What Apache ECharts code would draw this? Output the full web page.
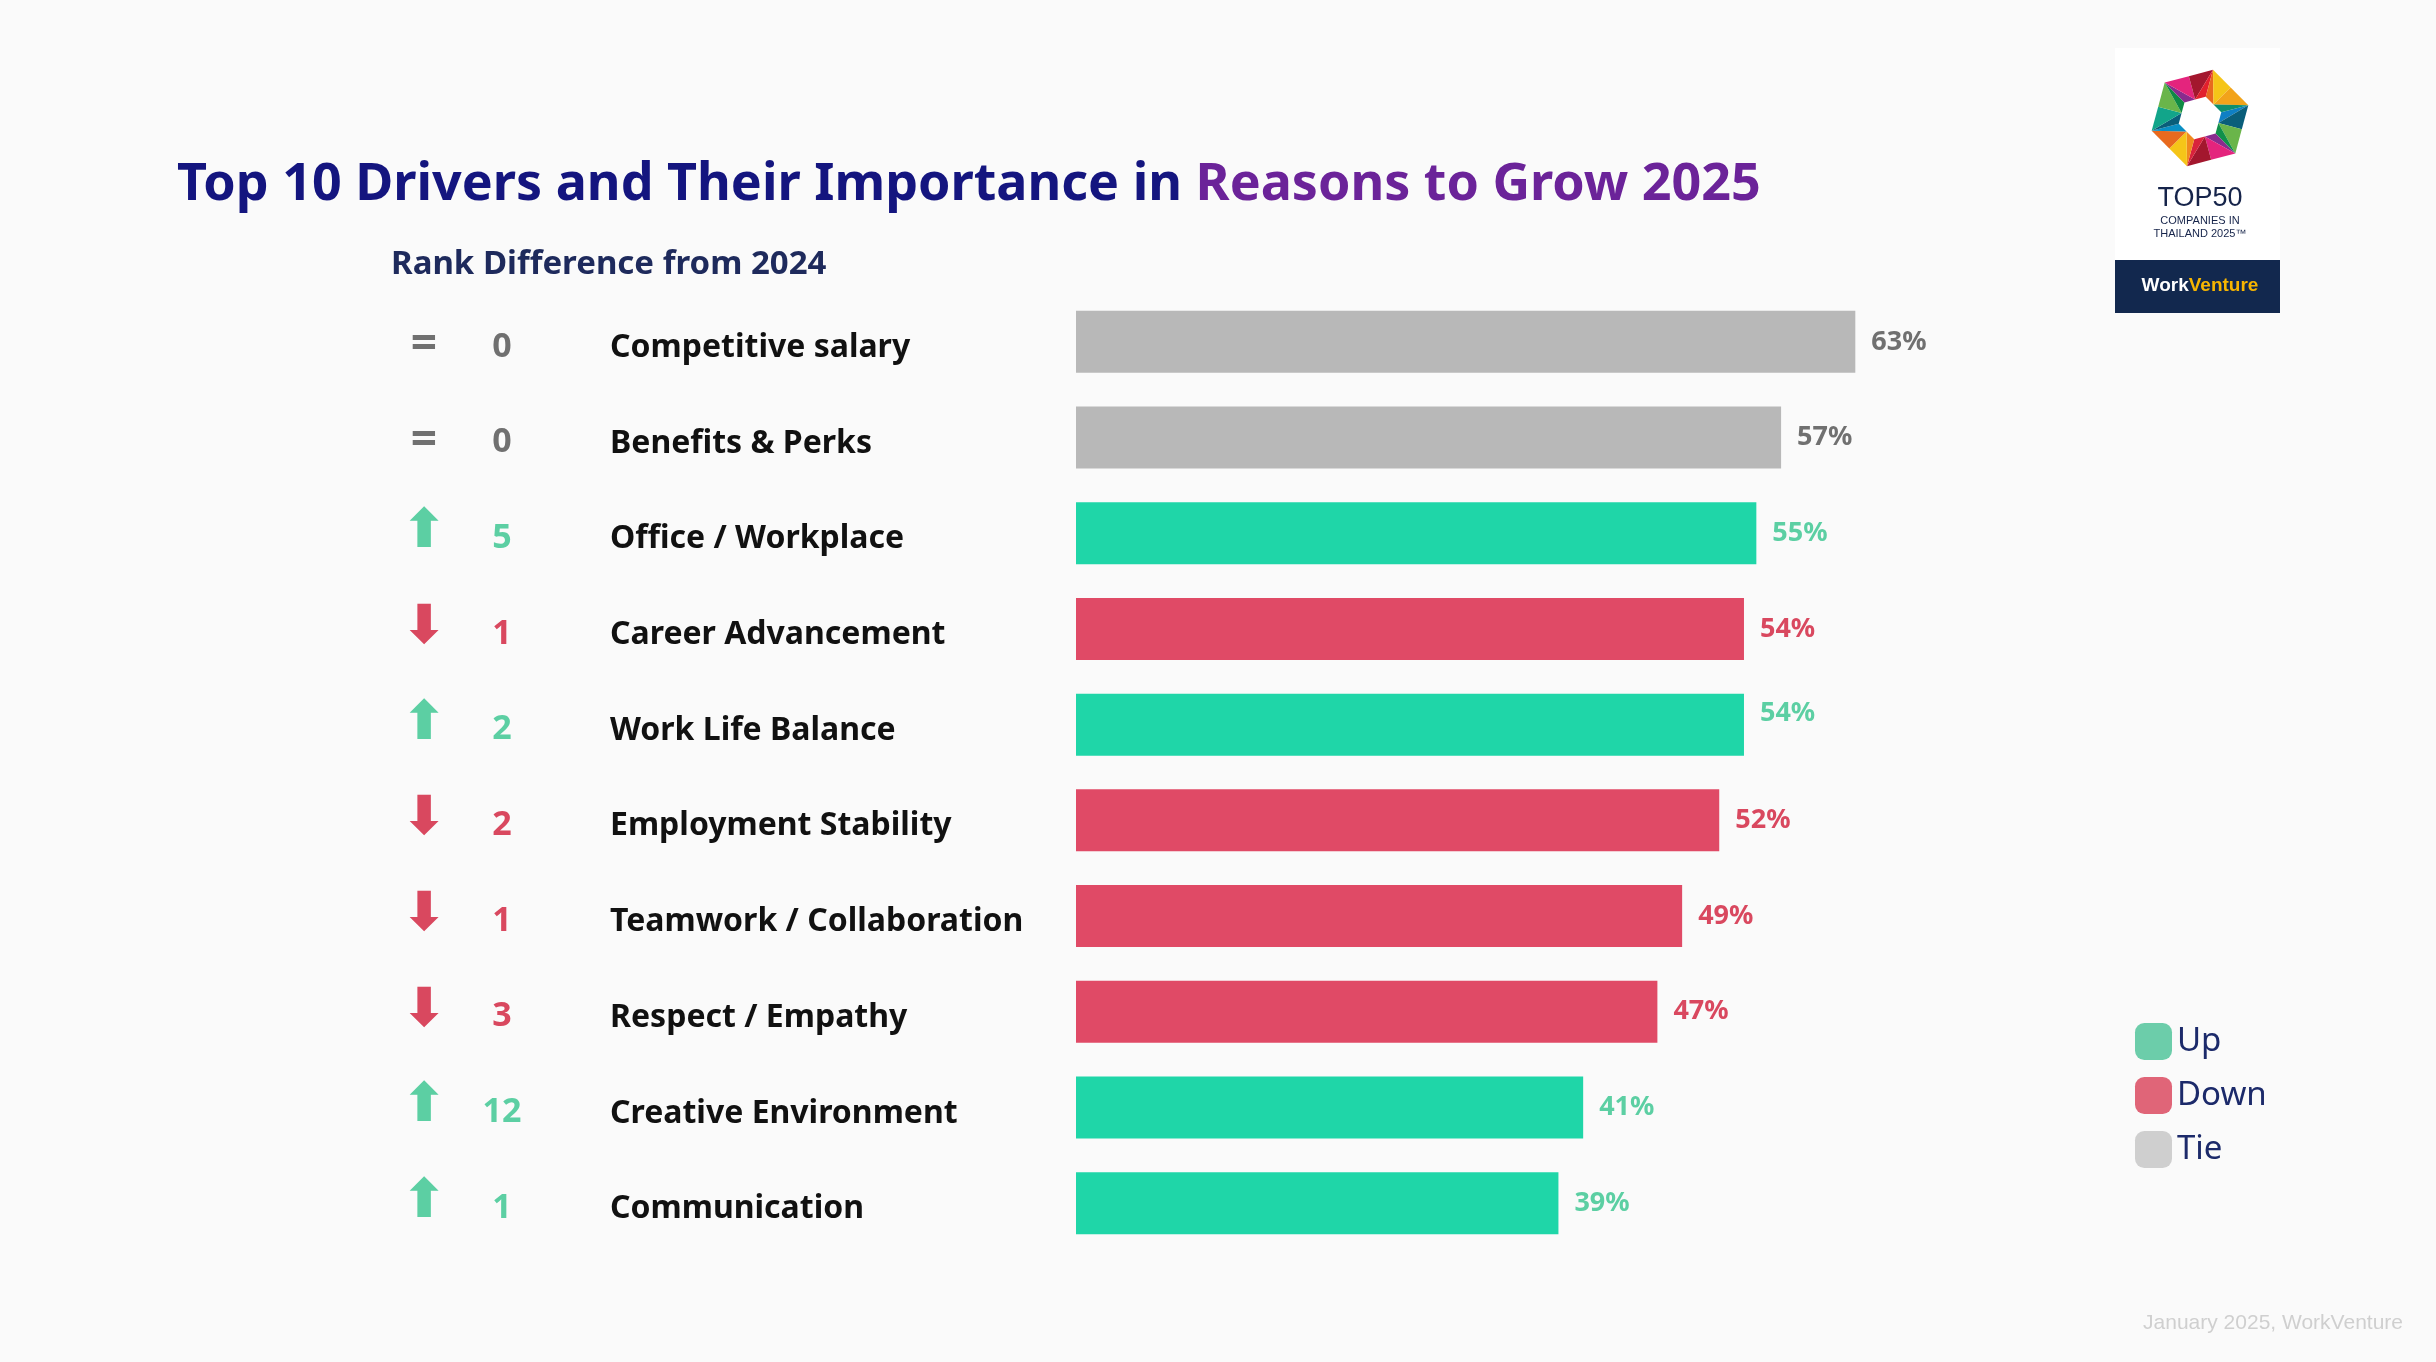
<!DOCTYPE html>
<html>
<head>
<meta charset="utf-8">
<script src="https://cdn.jsdelivr.net/npm/echarts@6/dist/echarts.min.js"></script>
<style>
html,body{margin:0;padding:0;background:#fafafa;}
#main{width:2436px;height:1362px;}
</style>
</head>
<body>
<div id="main"></div>
<script>
// data
var drivers = ['Competitive salary', 'Benefits & Perks', 'Office / Workplace', 'Career Advancement', 'Work Life Balance',
	'Employment Stability', 'Teamwork / Collaboration', 'Respect / Empathy', 'Creative Environment', 'Communication'];
var importance = [63, 57, 55, 54, 54, 52, 49, 47, 41, 39];
var rankDiff = [0, 0, 5, 1, 2, 2, 1, 3, 12, 1];
var direction = ['Tie', 'Tie', 'Up', 'Down', 'Up', 'Down', 'Down', 'Down', 'Up', 'Up'];

var barColor = {Up: '#1fd6a8', Down: '#e04a66', Tie: '#b8b8b8'};
var labelColor = {Up: '#5ccfa3', Down: '#d9485f', Tie: '#707070'};
var legendColor = {Up: '#6ccdaa', Down: '#e06578', Tie: '#cfcfcf'};
var font = '"Noto Sans", sans-serif';

var chart = echarts.init(document.getElementById('main'));

// one stacked series per direction so the legend works
var series = ['Up', 'Down', 'Tie'].map(function (d) {
	return {
		name: d,
		type: 'bar',
		stack: 'all',
		barWidth: 62,
		itemStyle: {color: barColor[d]},
		label: {
			show: true,
			position: 'right',
			distance: 16,
			fontFamily: font,
			fontWeight: 'bold',
			fontSize: 27,
			color: labelColor[d],
			formatter: '{c}%'
		},
		data: importance.map(function (v, i) {
			if (direction[i] !== d) return '-';
			// the work life balance label sits a bit higher in the original
			if (i === 4) return {value: v, label: {offset: [0, -11]}};
			return v;
		})
	};
});

var arrowGlyph = {Up: '⬆', Down: '⬇', Tie: '='};

var option = {
	backgroundColor: '#fafafa',
	title: {
		text: '{a|Top 10 Drivers and Their Importance in }{b|Reasons to Grow 2025}',
		left: 172, top: 154,
		textStyle: {
			rich: {
				a: {fontFamily: font, fontWeight: 'bold', fontSize: 52, color: '#14157f'},
				b: {fontFamily: font, fontWeight: 'bold', fontSize: 52, color: '#6b2399'}
			}
		}
	},
	legend: {
		orient: 'vertical',
		left: 2130, top: 1018,
		itemWidth: 37, itemHeight: 37, itemGap: 17,
		icon: 'roundRect',
		textStyle: {fontFamily: font, fontSize: 33, color: '#1c2a6a'},
		data: ['Up', 'Down', 'Tie'].map(function (d) {
			return {name: d, itemStyle: {color: legendColor[d]}};
		})
	},
	grid: {left: 1076, right: 123, top: 294, bottom: 111},
	xAxis: {type: 'value', min: 0, max: 100, show: false},
	yAxis: {
		type: 'category',
		inverse: true,
		data: drivers,
		axisLine: {show: false},
		axisTick: {show: false},
		axisLabel: {
			align: 'left',
			margin: 682,
			formatter: function (name, i) {
				var d = direction[i];
				return '{' + d + '|' + arrowGlyph[d] + '}{n' + d + '|' + rankDiff[i] + '}{s|}{name|' + name + '}';
			},
			rich: {
				Up: {width: 60, align: 'center', fontSize: 54, fontWeight: 'bold', color: '#5ccfa3', fontFamily: 'DejaVu Sans'},
				Down: {width: 60, align: 'center', fontSize: 54, fontWeight: 'bold', color: '#d9485f', fontFamily: 'DejaVu Sans'},
				Tie: {width: 60, align: 'center', fontSize: 46, fontWeight: 'bold', color: '#707070', fontFamily: font, padding: [8, 0, 0, 0]},
				nUp: {width: 96, align: 'center', fontSize: 34, fontWeight: 'bold', color: '#5ccfa3', fontFamily: font, padding: [10, 0, 0, 0]},
				nDown: {width: 96, align: 'center', fontSize: 34, fontWeight: 'bold', color: '#d9485f', fontFamily: font, padding: [10, 0, 0, 0]},
				nTie: {width: 96, align: 'center', fontSize: 34, fontWeight: 'bold', color: '#707070', fontFamily: font, padding: [10, 0, 0, 0]},
				s: {width: 60},
				name: {fontSize: 32, fontWeight: 'bold', color: '#111', fontFamily: font, padding: [12, 0, 0, 0]}
			}
		}
	},
	series: series,
	graphic: [
		{type: 'text', left: 391, top: 248, style: {text: 'Rank Difference from 2024', fontFamily: font, fontWeight: 'bold', fontSize: 33, fill: '#1e2a5c'}},
		// logo card
		{type: 'rect', shape: {x: 2115, y: 48, width: 165, height: 212}, style: {fill: '#ffffff'}, silent: true},
		{type: 'rect', shape: {x: 2115, y: 260, width: 165, height: 53}, style: {fill: '#12284e'}, silent: true},
		{type: 'group', x: 2200, y: 118, rotation: 0.26, children: logoTriangles()},
		{type: 'text', x: 2200, y: 185, style: {text: 'TOP50', fontFamily: 'Liberation Sans', fontSize: 27, fill: '#16244a', align: 'center'}},
		{type: 'text', x: 2200, y: 214, style: {text: 'COMPANIES IN\nTHAILAND 2025™', fontFamily: 'Liberation Sans', fontSize: 11, lineHeight: 13, fill: '#16244a', align: 'center'}},
		{type: 'text', x: 2200, y: 276, style: {
			text: '{w|Work}{v|Venture}', align: 'center',
			rich: {
				w: {fontFamily: 'Liberation Sans', fontWeight: 'bold', fontSize: 19, fill: '#ffffff'},
				v: {fontFamily: 'Liberation Sans', fontWeight: 'bold', fontSize: 19, fill: '#f7b500'}
			}
		}},
		// footer
		{type: 'text', right: 33, top: 1313, style: {text: 'January 2025, WorkVenture', fontFamily: 'Liberation Sans', fontSize: 21, fill: '#cfcfcf'}}
	]
};

// hexagonal ring of coloured triangles for the logo mark
function logoTriangles() {
	var cols = ['#0f7fc4', '#0a5e7a', '#6ab54a', '#10904a', '#8a2b8e', '#e4247d', '#a3172e', '#d9233c',
		'#f08a1e', '#f5c518', '#e86a1e', '#0a8fc4', '#0a5e7a', '#12a58a', '#6ab54a', '#0f8a44',
		'#8a2b8e', '#e4247d', '#a3172e', '#e2202d', '#e86a1e', '#f5c518', '#f2a31a', '#0f8f6e'];
	var out = [];
	var rIn = 22, rOut = 50;
	for (var i = 0; i < 6; i++) {
		var a0 = i * Math.PI / 3, a1 = (i + 1) * Math.PI / 3;
		var p0 = [Math.cos(a0) * rIn, Math.sin(a0) * rIn], p1 = [Math.cos(a1) * rIn, Math.sin(a1) * rIn];
		var q0 = [Math.cos(a0) * rOut, Math.sin(a0) * rOut], q1 = [Math.cos(a1) * rOut, Math.sin(a1) * rOut];
		var m = [(q0[0] + q1[0]) / 2, (q0[1] + q1[1]) / 2];
		var mi = [(p0[0] + p1[0]) / 2, (p0[1] + p1[1]) / 2];
		out.push({type: 'polygon', shape: {points: [p0, mi, q0]}, style: {fill: cols[i * 4]}});
		out.push({type: 'polygon', shape: {points: [mi, m, q0]}, style: {fill: cols[i * 4 + 1]}});
		out.push({type: 'polygon', shape: {points: [mi, m, q1]}, style: {fill: cols[i * 4 + 2]}});
		out.push({type: 'polygon', shape: {points: [p1, mi, q1]}, style: {fill: cols[i * 4 + 3]}});
	}
	return out;
}

chart.setOption(option);

window.onresize = function () {
	chart.resize();
};
</script>
</body>
</html>
